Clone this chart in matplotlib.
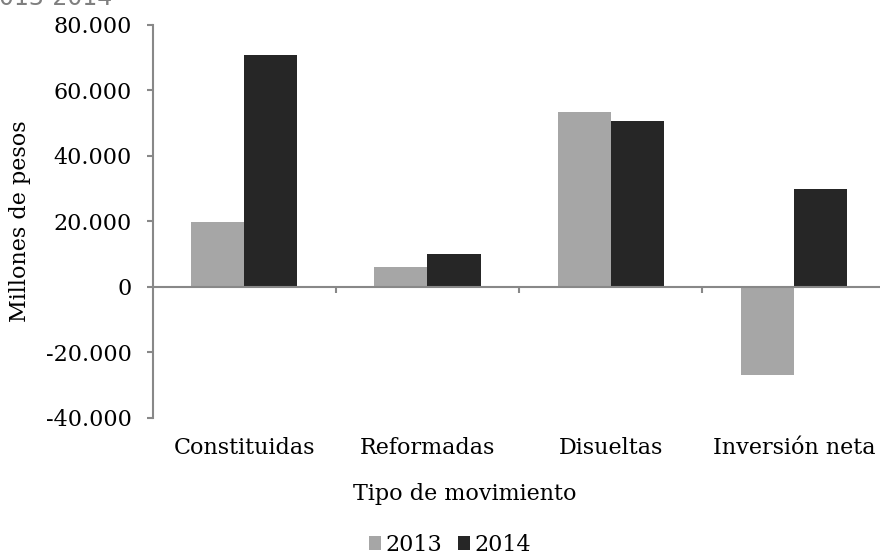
import matplotlib
matplotlib.use("Agg")
import matplotlib.pyplot as plt
import matplotlib.transforms as mtransforms
import numpy as np

categories = ["Constituidas", "Reformadas", "Disueltas", "Inversión neta"]
series_names = ["2013", "2014"]
values_2013 = [19700, 6000, 53400, -27000]
values_2014 = [70700, 10100, 50500, 29700]
y_ticks = [-40000, -20000, 0, 20000, 40000, 60000, 80000]
y_tick_labels = ["-40.000", "-20.000", "0", "20.000", "40.000", "60.000", "80.000"]
title_fragment = "2013-2014"

W, H = 880, 557
fig = plt.figure(figsize=(W / 100, H / 100), dpi=100)
plt.rcParams['font.family'] = ['DejaVu Serif']

left, right, top, bottom = 152.5, 885.7, 24.7, 417.7
ax = fig.add_axes([left / W, 1 - bottom / H, (right - left) / W, (bottom - top) / H])

x = np.arange(len(categories))
bw = 0.29
ax.bar(x - bw / 2, values_2013, width=bw, color="#A6A6A6", label=series_names[0], zorder=2)
ax.bar(x + bw / 2, values_2014, width=bw, color="#262626", label=series_names[1], zorder=2)

ax.set_xlim(-0.5, len(categories) - 0.5)
ax.set_ylim(-40000, 80000)

axis_col = "#888888"
for s in ["top", "right"]:
    ax.spines[s].set_visible(False)
ax.spines["left"].set_color(axis_col)
ax.spines["left"].set_linewidth(1.5)
ax.spines["bottom"].set_position(("data", 0))
ax.spines["bottom"].set_color(axis_col)
ax.spines["bottom"].set_linewidth(1.5)
ax.spines["bottom"].set_zorder(3)

ax.set_yticks(y_ticks)
ax.set_yticklabels(y_tick_labels, fontsize=16, color="black")
ax.tick_params(axis="y", direction="out", length=4, width=1.5, color=axis_col, pad=11)

ax.set_xticks(x)
ax.set_xticklabels([])
ax.tick_params(axis="x", which="major", length=0)
ax.set_xticks(x[:-1] + 0.5, minor=True)
ax.tick_params(axis="x", which="minor", direction="out", length=4, width=1.5, color=axis_col)

trans = mtransforms.blended_transform_factory(ax.transData, ax.transAxes)
for xi, cat in zip(x, categories):
    ax.text(xi, -0.077, cat, transform=trans, ha="center", va="center", fontsize=16, color="black")

fig.text(20 / W, 1 - 221 / H, "Millones de pesos", rotation=90, ha="center", va="center",
         fontsize=16, color="black")
fig.text(465 / W, 1 - 494 / H, "Tipo de movimiento", ha="center", va="center",
         fontsize=16, color="black")

fig.legend(loc="center", bbox_to_anchor=(450 / W, 1 - 545 / H), ncol=2, frameon=False,
           fontsize=16, handlelength=0.55, handleheight=0.55, handletextpad=0.2,
           columnspacing=0.7, borderaxespad=0)

fig.text(112 / W, 1 - 5 / H, title_fragment, ha="right", va="baseline", fontsize=17,
         color="#7f7f7f", family="DejaVu Sans")

fig.savefig("out.png", dpi=100)
